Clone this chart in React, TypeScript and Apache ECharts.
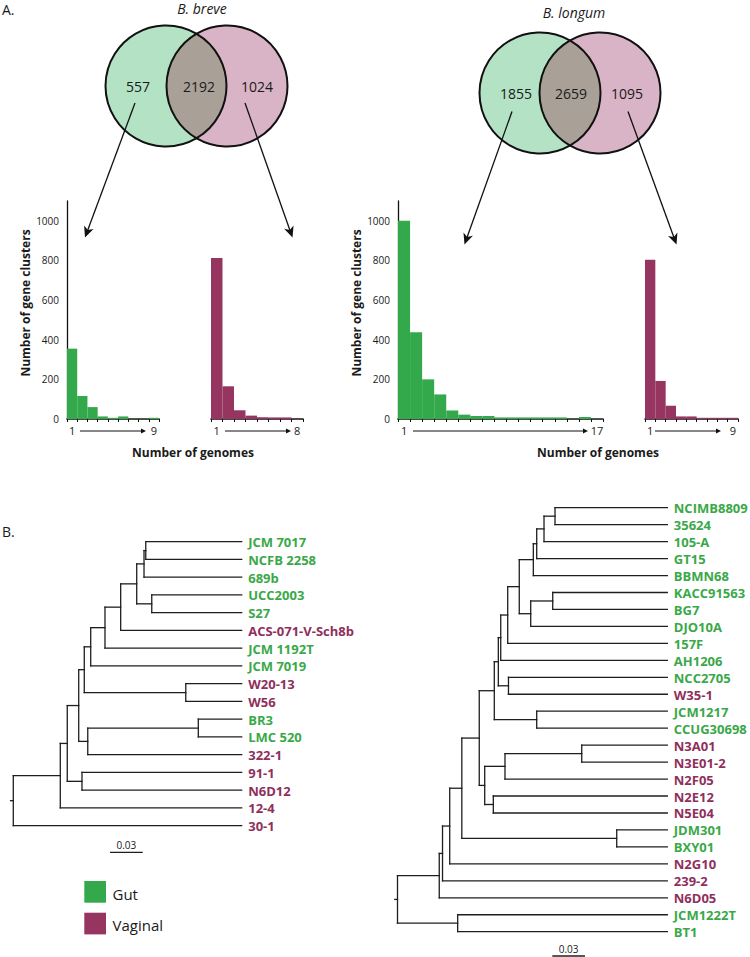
import React, { useEffect, useRef } from 'react';
import * as echarts from 'echarts';

// ---------------- colours ----------------
const GUT = '#34a94b';
const VAG = '#963660';
const GUT_TXT = '#3aa848';
const VAG_TXT = '#8f2f5c';
const FONT = '"Open Sans", "Noto Sans", sans-serif';

// ---------------- Venn counts (gut only, shared, vaginal only) ----------------
const breveVenn = [557, 2192, 1024];
const longumVenn = [1855, 2659, 1095];

// ---------------- histograms: number of genomes vs number of gene clusters ----------------
const breveGutGenomes = ['1', '2', '3', '4', '5', '6', '7', '8', '9'];
const breveGutClusters = [355, 116, 60, 13, 6, 13, 1, 1, 6];
const breveVagGenomes = ['1', '2', '3', '4', '5', '6', '7', '8'];
const breveVagClusters = [812, 165, 44, 17, 9, 8, 8, 1];
const longumGutGenomes = ['1', '2', '3', '4', '5', '6', '7', '8', '9', '10', '11', '12', '13', '14', '15', '16', '17'];
const longumGutClusters = [1000, 438, 200, 124, 43, 22, 15, 15, 8, 8, 8, 8, 8, 8, 1, 10, 1];
const longumVagGenomes = ['1', '2', '3', '4', '5', '6', '7', '8', '9'];
const longumVagClusters = [803, 192, 67, 13, 13, 6, 6, 6, 6];
const clusterTicks = [0, 200, 400, 600, 800, 1000];
const clusterAxisMax = 1100;

// ---------------- trees: [node depth (subst./site), ...children]; leaves are names ----------------
type TNode = string | any[];
const breveTree: TNode = [0,
  [0.0431,
    [0.0495,
      [0.0600,
        [0.0651,
          [0.0710,
            [0.0841,
              [0.0985,
                [0.1132,
                  [0.1199, [0.1215, 'JCM 7017', 'NCFB 2258'], '689b'],
                  [0.1270, 'UCC2003', 'S27']],
                'ACS-071-V-Sch8b'],
              'JCM 1192T'],
            'JCM 7019'],
          [0.1582, 'W20-13', 'W56']],
        [0.0683, [0.1697, 'BR3', 'LMC 520'], '322-1']],
      [0.0630, '91-1', 'N6D12']],
    '12-4'],
  '30-1'];
const breveLeafDepth = 0.2095;

const longumTree: TNode = [0,
  [0.0383,
    [0.0413,
      [0.0479,
        [0.0590,
          [0.0750,
            [0.0888,
              [0.0925,
                [0.0947,
                  [0.1011,
                    [0.1117,
                      [0.1246,
                        [0.1277, [0.1344, [0.1445, 'NCIMB8809', '35624'], '105-A'], 'GT15'],
                        'BBMN68'],
                      [0.1222, [0.1424, 'KACC91563', 'BG7'], 'DJO10A']],
                    '157F'],
                  'AH1206'],
                [0.1018, 'NCC2705', 'W35-1']],
              [0.1277, 'JCM1217', 'CCUG30698']],
            [0.0800,
              [0.0986, [0.1690, 'N3A01', 'N3E01-2'], 'N2F05'],
              [0.0879, 'N2E12', 'N5E04']]],
          [0.2011, 'JDM301', 'BXY01']],
        'N2G10'],
      '239-2'],
    'N6D05'],
  [0.0552, 'JCM1222T', 'BT1']];
const longumLeafDepth = 0.2475;

const gutStrains = [
  'JCM 7017', 'NCFB 2258', '689b', 'UCC2003', 'S27', 'JCM 1192T', 'JCM 7019', 'BR3', 'LMC 520',
  'NCIMB8809', '35624', '105-A', 'GT15', 'BBMN68', 'KACC91563', 'BG7', 'DJO10A', '157F', 'AH1206',
  'NCC2705', 'JCM1217', 'CCUG30698', 'JDM301', 'BXY01', 'JCM1222T', 'BT1',
];
const scaleBarLength = 0.03;
const legendItems = ['Gut', 'Vaginal'];

// ---------------- helpers ----------------
function layoutTree(tree: TNode, leafDepth: number) {
  const segs: number[][] = [];
  const leaves: { name: string; x: number; y: number }[] = [];
  let idx = 0;
  const walk = (n: TNode): number => {
    if (typeof n === 'string') {
      const y = idx++;
      leaves.push({ name: n, x: leafDepth, y });
      return y;
    }
    const d = n[0] as number;
    const kids = n.slice(1) as TNode[];
    const ys = kids.map((k) => {
      const y = walk(k);
      const kx = typeof k === 'string' ? leafDepth : (k[0] as number);
      segs.push([d, y, kx, y]);
      return y;
    });
    segs.push([d, Math.min(...ys), d, Math.max(...ys)]);
    return (ys[0] + ys[ys.length - 1]) / 2;
  };
  const rootY = walk(tree);
  segs.push([-0.0025, rootY, 0, rootY]);
  return { segs, leaves };
}

function lensPath(cx1: number, cx2: number, cy: number, r: number) {
  const mx = (cx1 + cx2) / 2;
  const h = Math.sqrt(r * r - ((cx2 - cx1) / 2) ** 2);
  return `M${mx} ${cy - h} A${r} ${r} 0 0 1 ${mx} ${cy + h} A${r} ${r} 0 0 1 ${mx} ${cy - h} Z`;
}

function arrow(sx: number, sy: number, tx: number, ty: number, L: number, W: number, notch: number, lw: number) {
  const dx = tx - sx, dy = ty - sy;
  const len = Math.hypot(dx, dy);
  const ux = dx / len, uy = dy / len, px = -uy, py = ux;
  const bx = tx - L * ux, by = ty - L * uy;
  const nx = tx - (L - notch) * ux, ny = ty - (L - notch) * uy;
  return [
    { type: 'line', silent: true, shape: { x1: sx, y1: sy, x2: nx, y2: ny }, style: { stroke: '#111', lineWidth: lw } },
    {
      type: 'polygon', silent: true,
      shape: { points: [[tx, ty], [bx + W * px, by + W * py], [nx, ny], [bx - W * px, by - W * py]] },
      style: { fill: '#111' },
    },
  ];
}

function txt(text: string, x: number, y: number, font: string, opts: any = {}) {
  return {
    type: 'text', silent: true, x, y, rotation: opts.rot || 0,
    style: {
      text, x: 0, y: 0, font, fill: opts.fill || '#1a1a1a',
      align: opts.align || 'center', verticalAlign: 'middle',
    },
  };
}

export default function App() {
  const ref = useRef<HTMLDivElement>(null);

  useEffect(() => {
    if (!ref.current) return;

    const venns = [
      { counts: breveVenn, c1: 166, c2: 227, cy: 86, r: 60.5, title: 'B. breve', tx: 202, ty: 8, lx: [138, 199, 257], shape: 'lensBreve' },
      { counts: longumVenn, c1: 540, c2: 600, cy: 93, r: 60.5, title: 'B. longum', tx: 574, ty: 12.5, lx: [516, 571, 627], shape: 'lensLongum' },
    ];
    venns.forEach((v) => {
      echarts.graphic.registerShape(v.shape, (echarts.graphic as any).extendPath(lensPath(v.c1, v.c2, v.cy, v.r), {}));
    });

    const graphics: any[] = [];
    graphics.push(txt('A.', 2, 9.5, `14px ${FONT}`, { align: 'left' }));
    graphics.push(txt('B.', 2, 531.5, `14px ${FONT}`, { align: 'left' }));
    venns.forEach((v) => {
      graphics.push({ type: 'circle', silent: true, shape: { cx: v.c1, cy: v.cy, r: v.r }, style: { fill: '#b3e2c4' } });
      graphics.push({ type: 'circle', silent: true, shape: { cx: v.c2, cy: v.cy, r: v.r }, style: { fill: '#d9b3c6' } });
      graphics.push({ type: v.shape, silent: true, shape: {}, style: { fill: '#a9a198' } });
      graphics.push({ type: 'circle', silent: true, shape: { cx: v.c1, cy: v.cy, r: v.r }, style: { fill: 'none', stroke: '#111', lineWidth: 2 } });
      graphics.push({ type: 'circle', silent: true, shape: { cx: v.c2, cy: v.cy, r: v.r }, style: { fill: 'none', stroke: '#111', lineWidth: 2 } });
      graphics.push(txt(v.title, v.tx, v.ty, `italic 14px ${FONT}`));
      v.counts.forEach((c, i) => graphics.push(txt(String(c), v.lx[i], v.cy, `14px ${FONT}`)));
    });
    // arrows from the Venn regions to histograms
    graphics.push(...arrow(135, 103, 85, 237.5, 11, 5, 3, 1.3));
    graphics.push(...arrow(245, 103, 292.5, 237.5, 11, 5, 3, 1.3));
    graphics.push(...arrow(512, 111.5, 464.5, 244.5, 11, 5, 3, 1.3));
    graphics.push(...arrow(628, 111.5, 676.5, 244.5, 11, 5, 3, 1.3));
    // genome-count arrows under the histograms
    graphics.push(...arrow(80, 431, 146, 431, 5, 2.5, 0, 1.2));
    graphics.push(...arrow(225, 431, 291, 431, 5, 2.5, 0, 1.2));
    graphics.push(...arrow(413, 431, 588, 431, 5, 2.5, 0, 1.2));
    graphics.push(...arrow(655, 431, 721, 431, 5, 2.5, 0, 1.2));
    // axis titles
    graphics.push(txt('Number of gene clusters', 25, 303, `bold 12px ${FONT}`, { rot: Math.PI / 2 }));
    graphics.push(txt('Number of gene clusters', 356, 303, `bold 12px ${FONT}`, { rot: Math.PI / 2 }));
    graphics.push(txt('Number of genomes', 193, 452, `bold 12px ${FONT}`));
    graphics.push(txt('Number of genomes', 598, 452, `bold 12px ${FONT}`));
    // legend
    legendItems.forEach((name, i) => {
      const y = 881 + i * 31.7;
      graphics.push({ type: 'rect', silent: true, shape: { x: 84.3, y, width: 21.7, height: 21.7 }, style: { fill: i === 0 ? GUT : VAG } });
      graphics.push(txt(name, 112.5, y + 12.5, `15px ${FONT}`, { align: 'left' }));
    });

    // --------- histograms ---------
    const hists = [
      { cats: breveGutGenomes, vals: breveGutClusters, color: GUT, grid: { left: 67, top: 201, width: 92, height: 218 }, yShow: true },
      { cats: breveVagGenomes, vals: breveVagClusters, color: VAG, grid: { left: 211, top: 201, width: 92, height: 218 }, yShow: false },
      { cats: longumGutGenomes, vals: longumGutClusters, color: GUT, grid: { left: 398, top: 201, width: 205, height: 218 }, yShow: true },
      { cats: longumVagGenomes, vals: longumVagClusters, color: VAG, grid: { left: 645, top: 201, width: 93, height: 218 }, yShow: false },
    ];

    const grids: any[] = hists.map((h) => h.grid);
    const xAxes: any[] = hists.map((h, i) => ({
      type: 'category', gridIndex: i, data: h.cats, boundaryGap: true,
      axisLine: { show: true, lineStyle: { color: '#111', width: 1.6 } },
      axisTick: { show: true, length: 3, interval: 0, lineStyle: { color: '#111', width: 1 } },
      axisLabel: {
        interval: 0, margin: 6, fontSize: 11, fontFamily: FONT, color: '#1a1a1a',
        formatter: (v: string, idx: number) => (idx === 0 || idx === h.cats.length - 1 ? v : ''),
      },
      splitLine: { show: false },
    }));
    const yAxes: any[] = hists.map((h, i) => ({
      type: 'value', gridIndex: i, min: clusterTicks[0], max: clusterAxisMax,
      interval: clusterTicks[1] - clusterTicks[0], show: h.yShow,
      axisLine: { show: true, lineStyle: { color: '#111', width: 1.3 } },
      axisTick: { show: false },
      axisLabel: {
        showMaxLabel: false, margin: 8, fontSize: 10, fontFamily: FONT, color: '#1a1a1a',
        formatter: (v: number) => String(v),
      },
      splitLine: { show: false },
    }));
    const series: any[] = hists.map((h, i) => ({
      type: 'bar', xAxisIndex: i, yAxisIndex: i, data: h.vals, barCategoryGap: '0%',
      itemStyle: { color: h.color }, silent: true,
    }));

    // --------- trees ---------
    const trees = [
      { tree: breveTree, depth: breveLeafDepth, grid: { left: 13.3, top: 541.7, width: 228.4, height: 284 }, scale: [0.0887, 17.5] },
      { tree: longumTree, depth: longumLeafDepth, grid: { left: 397.5, top: 507.7, width: 269.8, height: 424 }, scale: [0.142, 26.43] },
    ];
    trees.forEach((t) => {
      const gi = grids.length;
      const { segs, leaves } = layoutTree(t.tree, t.depth);
      grids.push(t.grid);
      xAxes.push({ type: 'value', gridIndex: gi, min: 0, max: t.depth, show: false });
      yAxes.push({ type: 'value', gridIndex: gi, min: 0, max: leaves.length - 1, inverse: true, show: false });
      series.push({
        type: 'custom', xAxisIndex: gi, yAxisIndex: gi, silent: true, data: segs,
        renderItem: (_p: any, api: any) => {
          const a = api.coord([api.value(0), api.value(1)]);
          const b = api.coord([api.value(2), api.value(3)]);
          return {
            type: 'line', shape: { x1: a[0], y1: a[1], x2: b[0], y2: b[1] },
            style: { stroke: '#1e1e1e', lineWidth: 1.3, lineCap: 'square' },
          };
        },
      });
      series.push({
        type: 'custom', xAxisIndex: gi, yAxisIndex: gi, silent: true,
        data: leaves.map((l) => [l.x, l.y]),
        renderItem: (p: any, api: any) => {
          const leaf = leaves[p.dataIndex];
          const c = api.coord([api.value(0), api.value(1)]);
          const isGut = gutStrains.includes(leaf.name);
          return {
            type: 'text', x: c[0] + 6.5, y: c[1] + 0.5,
            style: {
              text: leaf.name, font: `bold 13px ${FONT}`, fill: isGut ? GUT_TXT : VAG_TXT,
              align: 'left', verticalAlign: 'middle',
            },
          };
        },
      });
      series.push({
        type: 'custom', xAxisIndex: gi, yAxisIndex: gi, silent: true,
        data: [[t.scale[0], t.scale[1], scaleBarLength]],
        renderItem: (_p: any, api: any) => {
          const a = api.coord([api.value(0), api.value(1)]);
          const b = api.coord([api.value(0) + api.value(2), api.value(1)]);
          return {
            type: 'group',
            children: [
              { type: 'line', shape: { x1: a[0], y1: a[1], x2: b[0], y2: b[1] }, style: { stroke: '#1e1e1e', lineWidth: 1.4 } },
              {
                type: 'text', x: (a[0] + b[0]) / 2, y: a[1] - 7,
                style: { text: String(scaleBarLength), font: `10px ${FONT}`, fill: '#1a1a1a', align: 'center', verticalAlign: 'middle' },
              },
            ],
          };
        },
      });
    });

    const chart = echarts.init(ref.current, undefined, { renderer: 'svg' });
    chart.setOption({
      animation: false,
      backgroundColor: '#ffffff',
      grid: grids,
      xAxis: xAxes,
      yAxis: yAxes,
      series,
      graphic: { elements: graphics },
    });
    return () => chart.dispose();
  }, []);

  return (
    <div
      ref={ref}
      style={{ position: 'absolute', left: 0, top: 0, width: 750, height: 957, background: '#fff' }}
    />
  );
}
